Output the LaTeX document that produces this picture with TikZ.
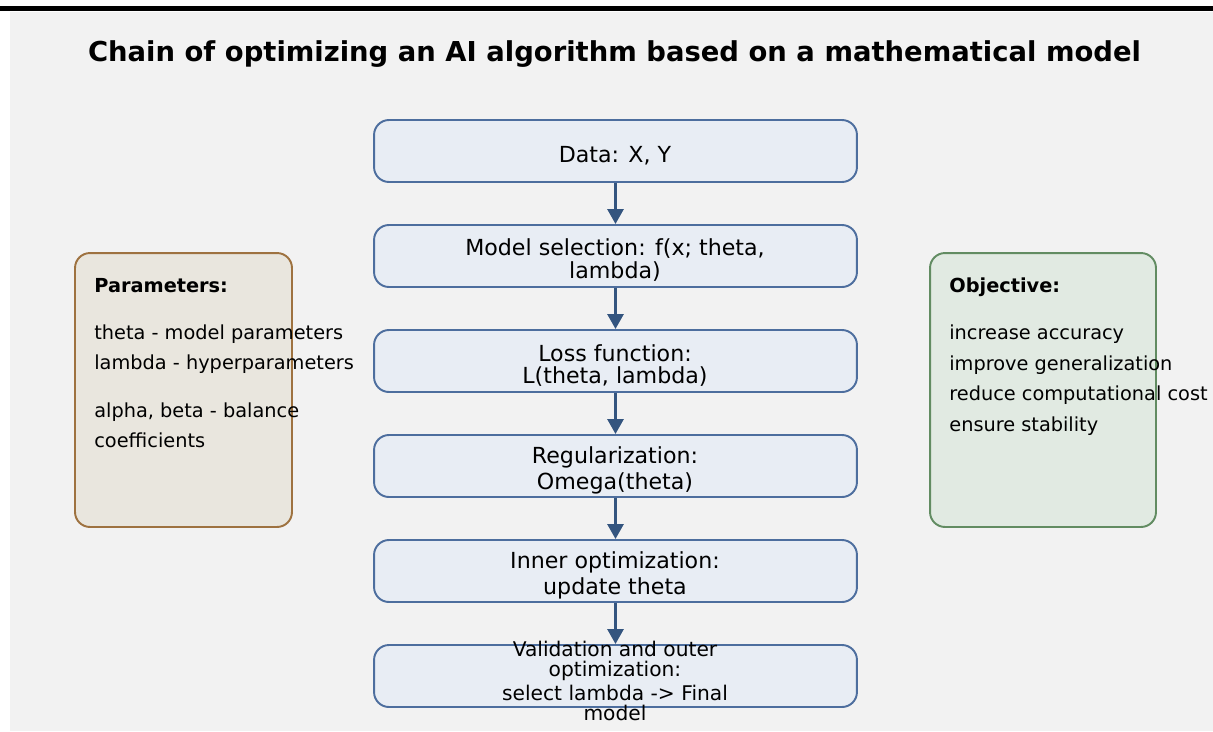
\documentclass[tikz,border=0pt]{standalone}
\usepackage{fontspec}
\setmainfont{DejaVu Sans}
\usepackage{xcolor}
\usepackage{tikz}
\usetikzlibrary{arrows.meta, positioning}

\definecolor{pagebg}{HTML}{F2F2F2}
\definecolor{stepfill}{HTML}{E8EDF4}
\definecolor{stepline}{HTML}{4D6E9E}
\definecolor{flowblue}{HTML}{34557F}
\definecolor{parfill}{HTML}{E9E6DE}
\definecolor{parline}{HTML}{9E7240}
\definecolor{objfill}{HTML}{E1EAE2}
\definecolor{objline}{HTML}{628C62}

\begin{document}
\begin{tikzpicture}[
      x = 0.02cm, y = -0.02cm,
      stepbox/.style  = {draw = stepline, fill = stepfill, line width = 1.1pt,
                         rounded corners = 8.5pt, minimum width = 9.66cm,
                         minimum height = 1.24cm, inner sep = 0pt},
      steptxt/.style  = {font = \fontsize{12.6}{14.7}\selectfont, align = center,
                         inner sep = 0pt},
      flow/.style     = {-{Triangle[length = 8.5pt, width = 9pt]}, draw = flowblue,
                         line width = 1.8pt},
      sidebox/.style  = {line width = 1.1pt, rounded corners = 8.5pt,
                         minimum height = 5.48cm, inner sep = 0pt},
      sidehead/.style = {font = \fontsize{11}{13}\selectfont\bfseries,
                         anchor = base west, inner sep = 0pt},
      sidetxt/.style  = {font = \fontsize{11}{13}\selectfont, anchor = base west,
                         inner sep = 0pt}
    ]
  \useasboundingbox (0,0) rectangle (1213,731);

  % ---------- page ------------------------------------------------------
  \fill[black]  (0,6) rectangle (1213,10.5);
  \fill[pagebg] (10,12) rectangle (1213,731);

  \node[font = \fontsize{15.6}{18}\selectfont\bfseries, inner sep = 0pt] (title)
        at (614.5,54) {Chain of optimizing an AI algorithm based on a mathematical model};

  % ---------- chain -----------------------------------------------------
  \node[stepbox] (data) at (615.5,151) {};
  \node[stepbox] (model) at (615.5,256) {};
  \node[stepbox] (loss) at (615.5,361) {};
  \node[stepbox] (reg) at (615.5,466) {};
  \node[stepbox] (inner) at (615.5,571) {};
  \node[stepbox] (outer) at (615.5,676) {};

    \node[steptxt] (data-t)  at (615,156) {Data: X, Y};
    \node[steptxt] (model-t) at (615,260) {Model selection: f(x; theta,\\[-1.1pt] lambda)};
    \node[steptxt] (loss-t)  at (615,366) {Loss function:\\[-2.2pt] L(theta, lambda)};
    \node[steptxt] (reg-t)   at (615,470) {Regularization:\\ Omega(theta)};
    \node[steptxt] (inner-t) at (615,575) {Inner optimization:\\ update theta};
    \node[steptxt, font = \fontsize{11.5}{11.5}\selectfont] (outer-t) at (615,681)
          {Validation and outer\\ optimization:\\[2pt] select lambda -> Final\\ model};

  \draw[flow] (data)  -- (model);
  \draw[flow] (model) -- (loss);
  \draw[flow] (loss)  -- (reg);
  \draw[flow] (reg)   -- (inner);
  \draw[flow] (inner) -- (outer);

  % ---------- parameters ------------------------------------------------
  \node[sidebox, draw = parline, fill = parfill, minimum width = 4.34cm] (params)
        at (183.5,390) {};
    \node[sidehead] (params-h) at (94,292) {Parameters:};
    \node[sidetxt] (params-1) at (94,339) {theta - model parameters};
    \node[sidetxt] (params-2) at (94,369) {lambda - hyperparameters};
    \node[sidetxt] (params-3) at (94,417) {alpha, beta - balance};
    \node[sidetxt] (params-4) at (94,447) {coefficients};

  % ---------- objective -------------------------------------------------
  \node[sidebox, draw = objline, fill = objfill, minimum width = 4.52cm] (goal)
        at (1043,390) {};
    \node[sidehead] (goal-h) at (949,292) {Objective:};
    \node[sidetxt] (goal-1) at (949,339) {increase accuracy};
    \node[sidetxt] (goal-2) at (949,370) {improve generalization};
    \node[sidetxt] (goal-3) at (949,400) {reduce computational cost};
    \node[sidetxt] (goal-4) at (949,431) {ensure stability};

\end{tikzpicture}
\end{document}
